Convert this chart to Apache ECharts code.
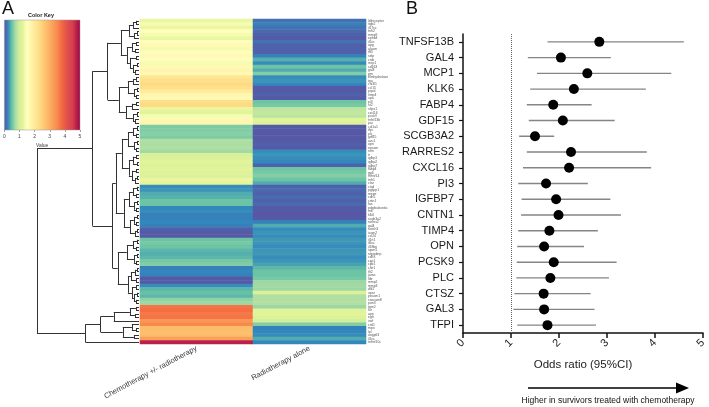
<!DOCTYPE html>
<html><head><meta charset="utf-8">
<script src="https://cdn.jsdelivr.net/npm/echarts@6/dist/echarts.min.js"></script>
<style>html,body{margin:0;padding:0;background:#fff}#c{width:709px;height:407px}</style>
</head><body><div id="c"></div>
<script>
// ---------- Panel A data ----------
const groupNames = ['Chemotherapy +/- radiotherapy', 'Radiotherapy alone'];
const rowNames = ['ldlreceptor','itgb2','il17ra','tnfr2','mmp9','ephb4','il2ra','opg','alcam','tff3','selp','cstb','mcp1','cd163','gal3','grn','blmhydrolase','tpa','chi3l1','ccl15','pspd','timp4','upa','pi3','st2','shps1','cxcl16','pcsk9','tnfsf13b','pai','col1a1','tfpi','plc','gdf15','azu1','opn','epcam','retn','tr','igfbp1','igfbp2','igfbp7','fabp4','gp6','tnfrsf14','tnfr1','ctsz','ctsd','pglyrp1','mepe','cdh5','cntn1','fas','pdgfsubunita','mb','klk6','scgb3a2','rarres2','gal4','notch3','icam2','ccl24','il1rt1','il6ra','il18bp','spon1','ntprobnp','cd93','cpa1','cpb1','chit1','tlt2','jama','ltbr','mmp2','mmp3','dlk1','upar','pecam1','ceacam8','pon3','tgm2','fur','apn','egfr','vwf','ctsl1','mpo','lpl','angptl3','il1ra','tnfrsf10c'];
const chemoValues = [1.3,1.4,1.3,1.55,1.4,1.3,
  1.55,1.65,1.4,1.55,1.65,1.55,1.4,1.65,1.75,1.65,
  2.1,2.25,2.35,2.25,1.95, 1.75,1.65, 2.25,2.35, 1.3,1.2,1.4, 1.65,1.75,
  0.58,0.6,0.62,0.58, 0.78,0.75,0.78,0.72,
  1.05,1.1,1.2,1.1,1.2,1.15,1.1,1.3, 1.25,
  0.27,0.3, 0.4,0.43, 0.52,0.52, 0.25,0.27, 0.22,0.22,0.25,0.22, 0.08,0.05,0.05,
  0.52,0.56,0.52, 0.45,0.42,0.45, 0.56,0.6, 0.22,0.25,0.22, 0.05,0.05, 0.27,
  0.45,0.5,0.45, 0.65,0.7,
  3.7,3.75,3.65,3.7, 3.3, 3.5, 2.8,2.75,2.8, 3.2, 4.75];
const radioValues = [0.15,0.22,0.15,0.12,0.08, 0.05, 0.15,0.08,0.08, 0.08,0.22,
  0.42, 0.27, 0.52, 0.4, 0.6, 0.27,0.3,0.25, 0.05,0.05,0.08,0.05, 0.52,0.56,
  0.85,0.9,0.85, 1.2, 1.1,
  0.05,0.05,0.03,0.05,0.05,0.07,0.05, 0.27,0.3,0.27,0.25, 0.08,
  0.52,0.56,0.6,0.52, 0.4,
  0.08,0.12,0.08,0.12,0.08,0.12, 0.05,0.05,0.03,0.05, 0.22, 0.4,
  0.27,0.3,0.27,0.32,0.3,0.27,0.3,0.32,0.27,0.3,
  0.36,0.45, 0.52,0.52,0.56, 0.7,0.72,0.7, 1.1, 0.8,0.78,0.8, 0.7,
  1.2,1.2, 1.1,1.0, 0.6, 0.22,0.25, 0.27, 0.4, 0.25];
const keyTicks = [0, 1, 2, 3, 4, 5];
// row dendrogram: (child,child):height ; leaves are row indices
const dendroTree = "(((" +
  "((((0,1):3,2):6,((3,4):2,5):5):10,(((6,7):3,(8,9):4):7,((10,11):3,((12,13):2,(14,15):4):6):9):12):18," +
  "((((16,17):3,18):6,((19,20):2,(21,22):3):5):11,(((23,24):3,25):7,((26,27):2,(28,29):4):6):13):20" +
  "):31,((" +
  "((((30,31):2,(32,33):3):6,((34,35):2,(36,37):3):5):11,(((38,39):3,(40,41):2):6,((42,43):3,((44,45):2,46):4):7):10):17," +
  "((((47,48):2,(49,50):3):6,((51,52):2,(53,54):3):5):10,(((55,56):2,(57,58):3):5,((59,60):2,61):4):9):15" +
  "):23," +
  "((((62,63):2,(64,65):3):6,((66,67):2,(68,69):3):5):12,((((70,71):2,72):4,(73,74):3):8,((75,76):3,((77,78):2,(79,80):3):5):7):11):21" +
  "):26):46,((" +
  "(((81,82):3,(83,84):4):9,85):25," +
  "((86,(87,88):3):7,(89,90):5):16" +
  "):38,91):53):101";
const heatPalette = ['#5e4fa2','#3288bd','#66c2a5','#abdda4','#d4ee9c','#e6f598','#ffffbf','#fff5ac','#feea98','#fee08b','#fed07a','#fdbf6c','#fdae61','#fa9c58','#f7894f','#f46d43','#e85a48','#dd4a4d','#d53e4f','#b9214a','#9e0142'];

// ---------- Panel B data ----------
const forestNames = ['TNFSF13B','GAL4','MCP1','KLK6','FABP4','GDF15','SCGB3A2','RARRES2','CXCL16','PI3','IGFBP7','CNTN1','TIMP4','OPN','PCSK9','PLC','CTSZ','GAL3','TFPI'];
const forestOR   = [2.84,2.04,2.59,2.31,1.88,2.08,1.50,2.25,2.21,1.73,1.94,1.99,1.80,1.69,1.89,1.82,1.68,1.69,1.76];
const forestLow  = [1.76,1.35,1.54,1.40,1.33,1.37,1.17,1.33,1.25,1.15,1.22,1.21,1.15,1.13,1.12,1.11,1.07,1.05,1.13];
const forestHigh = [4.60,3.08,4.34,3.81,2.68,3.16,1.90,3.83,3.92,2.60,3.07,3.29,2.81,2.52,3.20,3.04,2.66,2.74,2.77];
const oddsTicks = [0, 1, 2, 3, 4, 5];

// ---------- build ----------
const heatData = [];
chemoValues.forEach((v, i) => heatData.push([0, i, v]));
radioValues.forEach((v, i) => heatData.push([1, i, v]));

function parseTree(s) {
  let i = 0;
  function node() {
    if (s[i] === '(') {
      i++;
      const kids = [node()];
      while (s[i] === ',') { i++; kids.push(node()); }
      i++; // ')'
      i++; // ':'
      let num = '';
      while (i < s.length && /[0-9.]/.test(s[i])) num += s[i++];
      return { kids, h: +num };
    }
    let num = '';
    while (/[0-9]/.test(s[i])) num += s[i++];
    return { leaf: +num, h: 0 };
  }
  return node();
}
const segs = [];
(function walk(n) {
  if (n.kids) {
    n.kids.forEach(walk);
    const first = n.kids[0], last = n.kids[n.kids.length - 1];
    n.y = (first.y + last.y) / 2;
    segs.push({ coords: [[n.h, first.y], [n.h, last.y]] });
    n.kids.forEach(k => segs.push({ coords: [[k.h, k.y], [n.h, k.y]] }));
  } else {
    n.y = n.leaf;
  }
})(parseTree(dendroTree));

const FONT = 'Liberation Sans, Arial, sans-serif';
const chart = echarts.init(document.getElementById('c'), null, { renderer: 'canvas' });
chart.setOption({
  animation: false,
  backgroundColor: '#fff',
  textStyle: { fontFamily: FONT },
  grid: [
    { left: 140, top: 19, width: 226, height: 325 },
    { left: 37, top: 19, width: 102, height: 325 },
    { left: 2, top: 20, width: 78, height: 110 },
    { left: 463, top: 34, width: 244, height: 299 }
  ],
  xAxis: [
    { type: 'category', gridIndex: 0, data: groupNames, axisLine: { show: false }, axisTick: { show: false },
      axisLabel: { rotate: 28, fontSize: 7.5, color: '#333', margin: 4, interval: 0 } },
    { type: 'value', gridIndex: 1, min: 0, max: 101, inverse: true, show: false },
    { type: 'value', gridIndex: 2, min: keyTicks[0], max: keyTicks[keyTicks.length - 1], interval: 1,
      axisLine: { show: false }, axisTick: { show: true, length: 2, lineStyle: { color: '#666', width: 0.6 } },
      axisLabel: { fontSize: 5, color: '#444', margin: 4 }, splitLine: { show: false },
      name: 'Value', nameLocation: 'middle', nameGap: 13, nameTextStyle: { fontSize: 5, color: '#444' } },
    { type: 'value', gridIndex: 3, min: oddsTicks[0], max: oddsTicks[oddsTicks.length - 1], interval: 1,
      axisLine: { show: true, lineStyle: { color: '#111', width: 1.5 } },
      axisTick: { show: true, length: 5, lineStyle: { color: '#111', width: 1.5 } },
      axisLabel: { rotate: 45, fontSize: 11, color: '#222', margin: 8 }, splitLine: { show: false },
      name: 'Odds ratio (95%CI)', nameLocation: 'middle', nameGap: 26, nameTextStyle: { fontSize: 11.5, color: '#222' } }
  ],
  yAxis: [
    { type: 'category', gridIndex: 0, data: rowNames, inverse: true, position: 'right',
      axisLine: { show: false }, axisTick: { show: false },
      axisLabel: { fontSize: 3.4, color: '#555', margin: 2, interval: 0 } },
    { type: 'value', gridIndex: 1, min: -0.5, max: rowNames.length - 0.5, inverse: true, show: false },
    { type: 'value', gridIndex: 2, min: 0, max: 1, show: false },
    { type: 'category', gridIndex: 3, data: forestNames, inverse: true,
      axisLine: { show: true, lineStyle: { color: '#111', width: 1.5 } },
      axisTick: { show: true, alignWithLabel: true, length: 4, lineStyle: { color: '#111', width: 1.2 } },
      axisLabel: { fontSize: 11, color: '#1a1a1a', margin: 9 } }
  ],
  visualMap: { type: 'continuous', min: 0, max: 5, seriesIndex: 0, show: false, inRange: { color: heatPalette } },
  series: [
    { type: 'heatmap', xAxisIndex: 0, yAxisIndex: 0, data: heatData, silent: true, progressive: 0 },
    { type: 'lines', coordinateSystem: 'cartesian2d', xAxisIndex: 1, yAxisIndex: 1, data: segs, silent: true,
      lineStyle: { color: '#333', width: 1, opacity: 1 } },
    { type: 'custom', xAxisIndex: 2, yAxisIndex: 2, data: [[0, 0]], silent: true,
      renderItem: function (params, api) {
        const p0 = api.coord([keyTicks[0], 1]);
        const p1 = api.coord([keyTicks[keyTicks.length - 1], 0]);
        return { type: 'rect', shape: { x: p0[0], y: p0[1], width: p1[0] - p0[0], height: p1[1] - p0[1] },
          style: { fill: new echarts.graphic.LinearGradient(0, 0, 1, 0,
            heatPalette.map((c, i) => ({ offset: i / (heatPalette.length - 1), color: c }))),
            stroke: '#999', lineWidth: 0.5 } };
      } },
    { type: 'custom', xAxisIndex: 3, yAxisIndex: 3, silent: true,
      data: forestNames.map((n, i) => [i, forestLow[i], forestHigh[i]]),
      encode: { x: [1, 2], y: 0 },
      renderItem: function (params, api) {
        const a = api.coord([api.value(1), api.value(0)]);
        const b = api.coord([api.value(2), api.value(0)]);
        return { type: 'line', shape: { x1: a[0], y1: a[1], x2: b[0], y2: b[1] },
          style: { stroke: '#858585', lineWidth: 1.4 } };
      } },
    { type: 'scatter', xAxisIndex: 3, yAxisIndex: 3, silent: true, symbolSize: 10,
      itemStyle: { color: '#000', opacity: 1 }, z: 5,
      data: forestOR.map((v, i) => [v, i]),
      markLine: { silent: true, symbol: ['none', 'none'], label: { show: false },
        lineStyle: { type: 'dotted', color: '#666', width: 1 }, data: [{ xAxis: 1 }] } }
  ],
  graphic: [
    { type: 'text', left: 2, top: 0, style: { text: 'A', font: '18px ' + FONT, fill: '#111' } },
    { type: 'text', left: 406, top: 0, style: { text: 'B', font: '18px ' + FONT, fill: '#111' } },
    { type: 'text', x: 41, y: 15, style: { text: 'Color Key', font: 'bold 5.5px ' + FONT, fill: '#222', align: 'center', verticalAlign: 'middle' } },
    { type: 'line', shape: { x1: 528, y1: 388, x2: 678, y2: 388 }, style: { stroke: '#000', lineWidth: 1.5 } },
    { type: 'polygon', shape: { points: [[676, 382.5], [689, 388], [676, 393.5]] }, style: { fill: '#000' } },
    { type: 'text', x: 608, y: 401, style: { text: 'Higher in survivors treated with chemotherapy', font: '8.5px ' + FONT, fill: '#111', align: 'center', verticalAlign: 'middle' } }
  ]
});
</script>
</body></html>
